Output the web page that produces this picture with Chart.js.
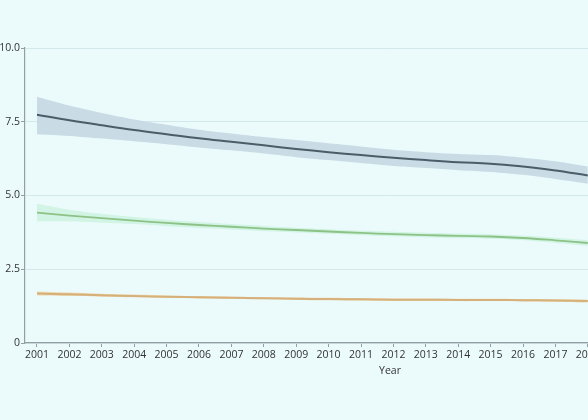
<!DOCTYPE html>
<html>
<head>
<meta charset="utf-8">
<script src="https://cdn.jsdelivr.net/npm/chart.js@4"></script>
<style>
html,body{margin:0;padding:0;background:#ebfbfc;overflow:hidden;width:588px;height:420px;}
#wrap{width:755px;height:420px;}
</style>
</head>
<body>
<div id="wrap"><canvas id="c" width="755" height="420"></canvas></div>
<script>
const years = [2001,2002,2003,2004,2005,2006,2007,2008,2009,2010,2011,2012,2013,2014,2015,2016,2017,2018];
const yTicks = [0,2.5,5,7.5,10];

const darkMean  = [7.74,7.55,7.38,7.22,7.08,6.94,6.82,6.70,6.58,6.47,6.37,6.28,6.20,6.13,6.08,5.98,5.85,5.68];
const darkUpper = [8.35,8.05,7.80,7.58,7.40,7.23,7.10,6.98,6.88,6.77,6.66,6.55,6.47,6.41,6.37,6.28,6.16,5.98];
const darkLower = [7.08,7.02,6.93,6.84,6.74,6.63,6.53,6.42,6.30,6.20,6.10,6.00,5.93,5.86,5.80,5.70,5.56,5.40];

const greenMean  = [4.42,4.32,4.23,4.15,4.07,4.00,3.94,3.88,3.83,3.78,3.73,3.69,3.66,3.63,3.61,3.56,3.48,3.39];
const greenUpper = [4.72,4.52,4.38,4.27,4.18,4.10,4.03,3.97,3.91,3.86,3.81,3.77,3.74,3.71,3.69,3.64,3.57,3.49];
const greenLower = [4.12,4.12,4.08,4.03,3.96,3.90,3.85,3.79,3.75,3.70,3.65,3.61,3.58,3.55,3.53,3.48,3.39,3.29];

const orangeMean  = [1.68,1.65,1.62,1.59,1.57,1.55,1.53,1.52,1.50,1.49,1.48,1.47,1.47,1.46,1.46,1.45,1.44,1.42];
const orangeUpper = [1.75,1.71,1.67,1.64,1.61,1.59,1.57,1.56,1.54,1.53,1.52,1.51,1.51,1.50,1.50,1.49,1.48,1.47];
const orangeLower = [1.61,1.59,1.57,1.55,1.53,1.51,1.49,1.48,1.46,1.45,1.44,1.43,1.43,1.42,1.42,1.41,1.40,1.37];

const pts = arr => arr.map((v,i)=>({x:years[i], y:v}));
const band = (up, lo, color) => [
  {data:pts(up), borderWidth:0, pointRadius:0, backgroundColor:color, fill:'+1', tension:0.4},
  {data:pts(lo), borderWidth:0, pointRadius:0, backgroundColor:color, fill:false, tension:0.4}
];
const line = (arr, color, w) => ({data:pts(arr), borderColor:color, borderWidth:w, pointRadius:0, fill:false, tension:0.4});

const axisColor = '#939fa3';
const textColor = '#333333';
const font = {family:'"Open Sans", "Noto Sans", sans-serif', size:10.5};

new Chart(document.getElementById('c'), {
  type:'line',
  data:{
    datasets:[
      ...band(darkUpper, darkLower, 'rgb(201,220,229)'),
      line(darkMean, '#4b5d69', 2),
      ...band(greenUpper, greenLower, 'rgb(210,244,228)'),
      line(greenMean, '#8dc287', 1.8),
      ...band(orangeUpper, orangeLower, 'rgb(238,216,176)'),
      line(orangeMean, '#d6b07a', 2)
    ]
  },
  options:{
    responsive:false,
    animation:false,
    layout:{padding:{top:48,left:0,right:0,bottom:0}},
    plugins:{legend:{display:false}, tooltip:{enabled:false}, filler:{drawTime:'beforeDatasetsDraw'}},
    scales:{
      x:{
        type:'linear',
        min:2000.63, max:2023.16,
        afterBuildTicks: s => { s.ticks = years.map(v=>({value:v})); },
        afterFit: s => { s.height = 77; },
        ticks:{color:textColor, font:font, padding:2, maxRotation:0, autoSkip:false, callback:v=>String(v)},
        grid:{display:true, drawOnChartArea:false, drawTicks:true, tickLength:4, tickColor:axisColor},
        border:{display:true, color:axisColor, width:1.2},
        title:{display:true, text:'Year', color:textColor, font:{family:font.family, size:10.5}, padding:{top:0,bottom:43}}
      },
      y:{
        min:0, max:10,
        afterBuildTicks: s => { s.ticks = yTicks.map(v=>({value:v})); },
        afterFit: s => { s.width = 25; },
        ticks:{color:textColor, font:font, padding:1, callback:v=> v===0 ? '0' : Number(v).toFixed(1)},
        grid:{color:'#d3e8ea', lineWidth:1, drawTicks:true, tickLength:4, tickColor:axisColor},
        border:{display:true, color:axisColor, width:1.2}
      }
    }
  }
});
</script>
</body>
</html>
